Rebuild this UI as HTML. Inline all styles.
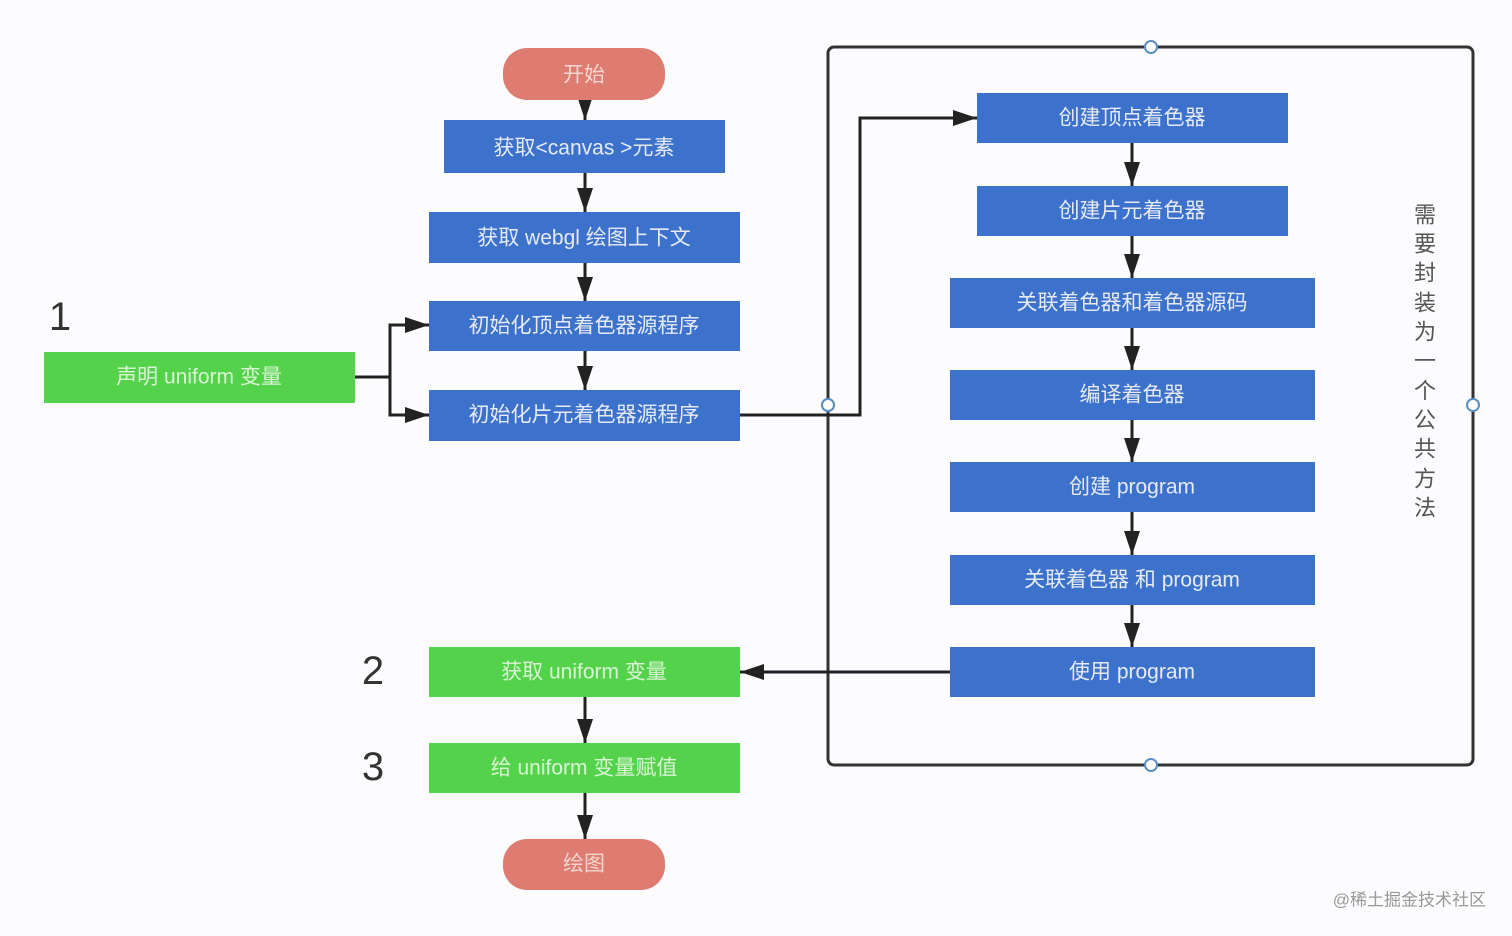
<!DOCTYPE html>
<html><head><meta charset="utf-8"><style>
html,body{margin:0;padding:0;background:#fcfbfd;}
svg{display:block}
text{font-family:"Liberation Sans","Noto Sans CJK SC",sans-serif;}
</style></head><body>
<svg width="1512" height="936" viewBox="0 0 1512 936" xmlns="http://www.w3.org/2000/svg">
<defs>
<marker id="a" markerWidth="10" markerHeight="10" refX="9" refY="5" orient="auto" markerUnits="userSpaceOnUse" viewBox="0 0 10 10">
<path d="M0,0 L10,5 L0,10 z" fill="#222"/></marker>
<marker id="b" markerWidth="24" markerHeight="16" refX="24" refY="8" orient="auto" markerUnits="userSpaceOnUse" viewBox="0 0 24 16">
<path d="M0,0 L24,8 L0,16 z" fill="#222"/></marker>
</defs>
<rect width="1512" height="936" fill="#fcfbfd"/>
<!-- big container -->
<rect x="828" y="47" width="645" height="718" rx="6" fill="none" stroke="#333" stroke-width="3"/>
<g fill="#fff" stroke="#5b8fbf" stroke-width="2">
<circle cx="1151" cy="47" r="6"/><circle cx="828" cy="405" r="6"/><circle cx="1473" cy="405" r="6"/><circle cx="1151" cy="765" r="6"/>
</g>
<!-- connectors -->
<g stroke="#222" stroke-width="3" fill="none">
<line x1="585" y1="100" x2="585" y2="120" marker-end="url(#b)"/>
<line x1="585" y1="173" x2="585" y2="212" marker-end="url(#b)"/>
<line x1="585" y1="263" x2="585" y2="301" marker-end="url(#b)"/>
<line x1="585" y1="351" x2="585" y2="390" marker-end="url(#b)"/>
<line x1="585" y1="697" x2="585" y2="743" marker-end="url(#b)"/>
<line x1="585" y1="793" x2="585" y2="839" marker-end="url(#b)"/>
<polyline points="355,377 390,377 390,325 429,325" marker-end="url(#b)"/>
<polyline points="390,377 390,415 429,415" marker-end="url(#b)"/>
<polyline points="740,415 860,415 860,118 977,118" marker-end="url(#b)"/>
<line x1="950" y1="672" x2="740" y2="672" marker-end="url(#b)"/>
<line x1="1132" y1="143" x2="1132" y2="186" marker-end="url(#b)"/>
<line x1="1132" y1="236" x2="1132" y2="278" marker-end="url(#b)"/>
<line x1="1132" y1="328" x2="1132" y2="370" marker-end="url(#b)"/>
<line x1="1132" y1="420" x2="1132" y2="462" marker-end="url(#b)"/>
<line x1="1132" y1="512" x2="1132" y2="555" marker-end="url(#b)"/>
<line x1="1132" y1="605" x2="1132" y2="647" marker-end="url(#b)"/>
</g>
<circle cx="828" cy="405" r="6" fill="#fff" stroke="#5b8fbf" stroke-width="2"/>
<!-- nodes -->
<g font-size="21" fill="#e6eaf5" text-anchor="middle" dominant-baseline="central">
<rect x="503" y="48" width="162" height="52" rx="24" fill="#de7c72"/><text x="584" y="75" fill="#f4d6d0">开始</text>
<rect x="444" y="120" width="281" height="53" fill="#3d72cc"/><text x="584" y="148">获取&lt;canvas &gt;元素</text>
<rect x="429" y="212" width="311" height="51" fill="#3d72cc"/><text x="584" y="238">获取 webgl 绘图上下文</text>
<rect x="429" y="301" width="311" height="50" fill="#3d72cc"/><text x="584" y="326">初始化顶点着色器源程序</text>
<rect x="429" y="390" width="311" height="51" fill="#3d72cc"/><text x="584" y="415">初始化片元着色器源程序</text>
<rect x="44" y="352" width="311" height="51" fill="#55d24c"/><text x="199" y="377" fill="#d8f5d4">声明 uniform 变量</text>
<rect x="429" y="647" width="311" height="50" fill="#55d24c"/><text x="584" y="672" fill="#d8f5d4">获取 uniform 变量</text>
<rect x="429" y="743" width="311" height="50" fill="#55d24c"/><text x="584" y="768" fill="#d8f5d4">给 uniform 变量赋值</text>
<rect x="503" y="839" width="162" height="51" rx="24" fill="#de7c72"/><text x="584" y="864" fill="#f4d6d0">绘图</text>
<rect x="977" y="93" width="311" height="50" fill="#3d72cc"/><text x="1132" y="118">创建顶点着色器</text>
<rect x="977" y="186" width="311" height="50" fill="#3d72cc"/><text x="1132" y="211">创建片元着色器</text>
<rect x="950" y="278" width="365" height="50" fill="#3d72cc"/><text x="1132" y="303">关联着色器和着色器源码</text>
<rect x="950" y="370" width="365" height="50" fill="#3d72cc"/><text x="1132" y="395">编译着色器</text>
<rect x="950" y="462" width="365" height="50" fill="#3d72cc"/><text x="1132" y="487">创建 program</text>
<rect x="950" y="555" width="365" height="50" fill="#3d72cc"/><text x="1132" y="580">关联着色器 和 program</text>
<rect x="950" y="647" width="365" height="50" fill="#3d72cc"/><text x="1132" y="672">使用 program</text>
</g>
<g font-size="40" fill="#333" text-anchor="middle" dominant-baseline="central">
<text x="60" y="317">1</text><text x="373" y="671">2</text><text x="373" y="767">3</text>
</g>
<g font-size="22" fill="#555" text-anchor="middle" dominant-baseline="central">
<text x="1425" y="215">需</text><text x="1425" y="244">要</text><text x="1425" y="273">封</text><text x="1425" y="303">装</text><text x="1425" y="332">为</text><text x="1425" y="361">一</text><text x="1425" y="391">个</text><text x="1425" y="420">公</text><text x="1425" y="449">共</text><text x="1425" y="479">方</text><text x="1425" y="508">法</text>
</g>
<text x="1486" y="900" font-size="17" fill="#999" text-anchor="end" dominant-baseline="central">@稀土掘金技术社区</text>
</svg>
</body></html>
